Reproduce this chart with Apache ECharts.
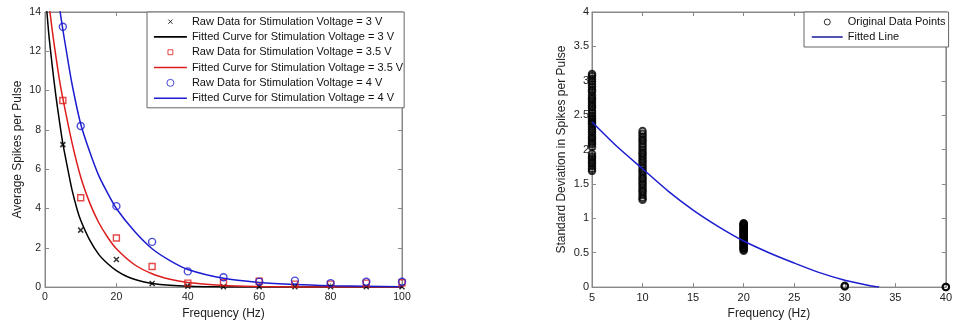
<!DOCTYPE html>
<html><head><meta charset="utf-8">
<script src="https://cdn.jsdelivr.net/npm/echarts@6/dist/echarts.min.js"></script>
<style>html,body{margin:0;padding:0;background:#fff}#c{width:955px;height:325px}</style>
</head><body><div id="c"></div>
<script>
// ---------- Left chart data ----------
const freqLeft = [5, 10, 20, 30, 40, 50, 60, 70, 80, 90, 100];
const raw3V  = [7.25, 2.9, 1.4, 0.18, 0.05, 0.02, 0.02, 0.02, 0.02, 0.02, 0.02];
const raw35V = [9.5, 4.55, 2.5, 1.05, 0.2, 0.22, 0.3, 0.15, 0.15, 0.2, 0.22];
const raw4V  = [13.25, 8.2, 4.12, 2.3, 0.8, 0.5, 0.28, 0.33, 0.2, 0.27, 0.27];

const fit3X  = [0, 1, 2, 3, 4, 5, 6.5, 7.5, 9, 10, 12.5, 15, 17.5, 20, 22.5, 25, 27.5, 30, 35, 40, 45, 50, 60, 80, 100];
const fit3Y  = [15.2, 13.0, 11.3, 9.8, 8.5, 7.3, 5.9, 5.0, 3.95, 3.4, 2.4, 1.68, 1.2, 0.84, 0.58, 0.4, 0.27, 0.18, 0.09, 0.04, 0.02, 0.01, 0, 0, 0];
const fit35X = [0, 1, 2, 3, 4, 5, 7.5, 10, 12.5, 15, 17.5, 20, 25, 30, 35, 40, 50, 60, 70, 80, 100];
const fit35Y = [16.3, 14.6, 13.1, 11.8, 10.6, 9.6, 7.4, 5.6, 4.3, 3.3, 2.55, 1.95, 1.15, 0.68, 0.4, 0.24, 0.08, 0.03, 0.01, 0, 0];
const fit4X  = [3.5, 4, 5, 6, 7.5, 10, 12.5, 15, 17.5, 20, 25, 30, 35, 40, 50, 60, 70, 80, 90, 100];
const fit4Y  = [15.0, 14.3, 13.1, 12.0, 10.4, 8.3, 6.9, 5.7, 4.8, 4.0, 2.85, 1.95, 1.35, 0.9, 0.45, 0.24, 0.13, 0.07, 0.04, 0.02];

const leftXRange = [0, 100, 20];
const leftYRange = [0, 14, 2];

// ---------- Right chart data ----------
const std5  = [1.69, 1.72, 1.76, 1.80, 1.83, 1.87, 1.90, 1.94, 2.04, 2.08, 2.11, 2.15, 2.18, 2.22, 2.26, 2.29, 2.33, 2.37, 2.40, 2.43, 2.46, 2.49, 2.53, 2.57, 2.61, 2.64, 2.68, 2.72, 2.75, 2.79, 2.84, 2.87, 2.91, 2.95, 2.99, 3.03, 3.07, 3.10];
const std10 = [1.27, 1.30, 1.34, 1.38, 1.41, 1.45, 1.49, 1.52, 1.56, 1.59, 1.63, 1.67, 1.70, 1.74, 1.78, 1.82, 1.85, 1.89, 1.93, 1.96, 2.00, 2.04, 2.08, 2.12, 2.15, 2.19, 2.23, 2.27];
const std20 = [0.53, 0.545, 0.56, 0.57, 0.58, 0.595, 0.61, 0.62, 0.64, 0.65, 0.66, 0.675, 0.69, 0.70, 0.71, 0.725, 0.74, 0.75, 0.76, 0.775, 0.79, 0.80, 0.81, 0.825, 0.84, 0.85, 0.86, 0.875, 0.89, 0.90, 0.91, 0.92, 0.93];
const std30 = [0.02, 0.01];
const std40 = [0.0, 0.0];

const fitLineX = [5, 7.5, 10, 12.5, 15, 17.5, 20, 22.5, 25, 27.5, 30, 32.5, 33.4];
const fitLineY = [2.40, 2.04, 1.72, 1.40, 1.12, 0.88, 0.67, 0.50, 0.35, 0.21, 0.10, 0.02, 0];

const rightXRange = [5, 40, 5];
const rightYRange = [0, 4, 0.5];

// ---------- Names ----------
const nRaw3 = 'Raw Data for Stimulation Voltage = 3 V';
const nFit3 = 'Fitted Curve for Stimulation Voltage = 3 V';
const nRaw35 = 'Raw Data for Stimulation Voltage = 3.5 V';
const nFit35 = 'Fitted Curve for Stimulation Voltage = 3.5 V';
const nRaw4 = 'Raw Data for Stimulation Voltage = 4 V';
const nFit4 = 'Fitted Curve for Stimulation Voltage = 4 V';
const nOrig = 'Original Data Points';
const nLine = 'Fitted Line';

// ---------- Styles ----------
const FONT = 'Liberation Sans, Arial, Helvetica, sans-serif';
const AX = '#888888';
const BLUE = '#1c1cd0', RED = '#dd1c1c', BLACK = '#000000';
const xPath = 'path://M0,0L10,10M10,0L0,10';
const xLegend = 'path://M0,0M10,10M2,2L8,8M8,2L2,8';
const sqLegend = 'path://M0,0M10,10M1.5,1.5L8.5,1.5L8.5,8.5L1.5,8.5Z';

function pairs(xs, ys) { return xs.map((x, i) => [x, ys[i]]); }
function column(x, ys) { return ys.map(y => [x, y]); }

function mkX(grid, pos, r, fs, showLabel, name, gap) {
  return {
    type: 'value', gridIndex: grid, position: pos, min: r[0], max: r[1], interval: r[2],
    axisLine: { show: true, onZero: false, lineStyle: { color: AX, width: 1 } },
    axisTick: { show: true, inside: true, length: 4, lineStyle: { color: AX } },
    axisLabel: { show: showLabel, margin: 5, fontSize: fs, color: '#222', fontFamily: FONT },
    splitLine: { show: false },
    name: showLabel ? name : '', nameLocation: 'middle', nameGap: gap,
    nameTextStyle: { fontSize: 12, color: '#222', fontFamily: FONT }
  };
}
function mkY(grid, pos, r, fs, showLabel, name, gap, margin) {
  return {
    type: 'value', gridIndex: grid, position: pos, min: r[0], max: r[1], interval: r[2],
    axisLine: { show: true, onZero: false, lineStyle: { color: AX, width: 1 } },
    axisTick: { show: true, inside: true, length: 4, lineStyle: { color: AX } },
    axisLabel: { show: showLabel, margin: margin, fontSize: fs, color: '#222', fontFamily: FONT },
    splitLine: { show: false },
    name: showLabel ? name : '', nameLocation: 'middle', nameGap: gap,
    nameTextStyle: { fontSize: 12, color: '#222', fontFamily: FONT }
  };
}

const chart = echarts.init(document.getElementById('c'), null, { renderer: 'canvas' });

const hideSym = { color: 'transparent', borderColor: 'transparent', borderWidth: 0 };

chart.setOption({
  animation: false,
  backgroundColor: '#ffffff',
  textStyle: { fontFamily: FONT },
  grid: [
    { left: 45, top: 12, width: 357, height: 281, show: true, borderColor: AX, borderWidth: 1, backgroundColor: 'transparent' },
    { left: 592, top: 12, width: 355, height: 281, show: true, borderColor: AX, borderWidth: 1, backgroundColor: 'transparent' }
  ],
  xAxis: [
    mkX(0, 'bottom', leftXRange, 10.5, true, 'Frequency (Hz)', 15),
    mkX(0, 'top', leftXRange, 10.5, false, '', 0),
    mkX(1, 'bottom', rightXRange, 11, true, 'Frequency (Hz)', 15),
    mkX(1, 'top', rightXRange, 11, false, '', 0)
  ],
  yAxis: [
    mkY(0, 'left', leftYRange, 10.5, true, 'Average Spikes per Pulse', 21, 4),
    mkY(0, 'right', leftYRange, 10.5, false, '', 0, 4),
    mkY(1, 'left', rightYRange, 11, true, 'Standard Deviation in Spikes per Pulse', 24, 3),
    mkY(1, 'right', rightYRange, 11, false, '', 0, 3)
  ],
  legend: [
    {
      orient: 'vertical', left: 147, top: 12, padding: [2, 1, 2, 6],
      itemWidth: 33, itemHeight: 7, itemGap: 0, selectedMode: false,
      backgroundColor: '#fff', borderColor: '#666', borderWidth: 1,
      textStyle: { fontSize: 11, color: '#111', fontFamily: FONT, lineHeight: 15.3 },
      data: [
        { name: nRaw3, icon: xLegend, itemStyle: { color: 'transparent', borderColor: BLACK, borderWidth: 1 } },
        { name: nFit3, itemStyle: hideSym, lineStyle: { color: BLACK, width: 1.8 } },
        { name: nRaw35, icon: sqLegend, itemStyle: { color: 'transparent', borderColor: RED, borderWidth: 1 } },
        { name: nFit35, itemStyle: hideSym, lineStyle: { color: RED, width: 1.5 } },
        { name: nRaw4, icon: 'circle', itemStyle: { color: 'transparent', borderColor: BLUE, borderWidth: 1 } },
        { name: nFit4, itemStyle: hideSym, lineStyle: { color: BLUE, width: 1.5 } }
      ]
    },
    {
      orient: 'vertical', left: 804, top: 12, padding: [2.5, 3, 2.5, 7],
      itemWidth: 31, itemHeight: 6, itemGap: 0, selectedMode: false,
      backgroundColor: '#fff', borderColor: '#666', borderWidth: 1,
      textStyle: { fontSize: 11, color: '#111', fontFamily: FONT, lineHeight: 15 },
      data: [
        { name: nOrig, icon: 'circle', itemStyle: { color: 'transparent', borderColor: BLACK, borderWidth: 1 } },
        { name: nLine, itemStyle: hideSym, lineStyle: { color: '#1a1a9a', width: 1.5 } }
      ]
    }
  ],
  series: [
    // Left chart curves
    { name: nFit3, type: 'line', xAxisIndex: 0, yAxisIndex: 0, data: pairs(fit3X, fit3Y), smooth: 0.25, symbol: 'none', clip: true,
      lineStyle: { color: BLACK, width: 1.5 }, itemStyle: { color: BLACK }, z: 2 },
    { name: nFit35, type: 'line', xAxisIndex: 0, yAxisIndex: 0, data: pairs(fit35X, fit35Y), smooth: 0.25, symbol: 'none', clip: true,
      lineStyle: { color: RED, width: 1.5 }, itemStyle: { color: RED }, z: 2 },
    { name: nFit4, type: 'line', xAxisIndex: 0, yAxisIndex: 0, data: pairs(fit4X, fit4Y), smooth: 0.25, symbol: 'none', clip: true,
      lineStyle: { color: BLUE, width: 1.5 }, itemStyle: { color: BLUE }, z: 2 },
    // Left chart raw points
    { name: nRaw3, type: 'scatter', xAxisIndex: 0, yAxisIndex: 0, data: pairs(freqLeft, raw3V), symbol: xPath, symbolSize: 5,
      itemStyle: { color: 'transparent', borderColor: BLACK, borderWidth: 1.5 }, z: 3 },
    { name: nRaw35, type: 'scatter', xAxisIndex: 0, yAxisIndex: 0, data: pairs(freqLeft, raw35V), symbol: 'rect', symbolSize: 6,
      itemStyle: { color: 'transparent', borderColor: RED, borderWidth: 1.4 }, z: 3 },
    { name: nRaw4, type: 'scatter', xAxisIndex: 0, yAxisIndex: 0, data: pairs(freqLeft, raw4V), symbol: 'circle', symbolSize: 7,
      itemStyle: { color: 'transparent', borderColor: BLUE, borderWidth: 1.4 }, z: 3 },
    // Right chart
    { name: nOrig, type: 'scatter', xAxisIndex: 2, yAxisIndex: 2,
      data: [].concat(column(5, std5), column(10, std10), column(20, std20), column(30, std30), column(40, std40)),
      symbol: 'circle', symbolSize: 6.5, clip: false,
      itemStyle: { color: 'transparent', borderColor: BLACK, borderWidth: 2 }, z: 3 },
    { name: nLine, type: 'line', xAxisIndex: 2, yAxisIndex: 2, data: pairs(fitLineX, fitLineY), smooth: 0.25, symbol: 'none',
      lineStyle: { color: BLUE, width: 1.5 }, itemStyle: { color: BLUE }, z: 4 }
  ]
});
</script>
</body></html>
